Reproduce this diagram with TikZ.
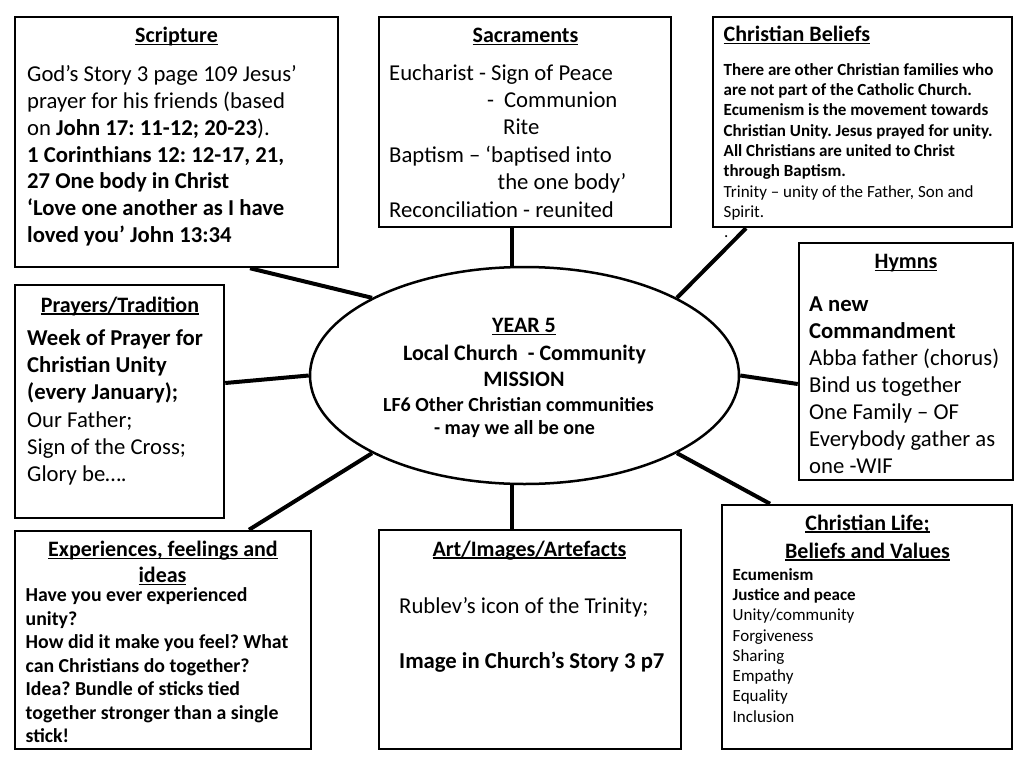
\documentclass[tikz,border=0pt]{standalone}
\usepackage{fontspec}
\setmainfont{Carlito}
\usetikzlibrary{shapes.geometric,calc}
\pgfdeclarelayer{bg}
\pgfsetlayers{bg,main}
\frenchspacing
\newcommand\ulx[1]{\setbox0\hbox{#1}\rlap{\rule[-2.7pt]{\wd0}{1.5pt}}\box0}
\begin{document}
\begin{tikzpicture}[x=1pt,y=-1pt,
  box/.style={draw=black, line width=2.5pt, fill=white, rectangle, inner sep=0pt},
  conn/.style={draw=black, line width=4pt},
  ttl/.style={font=\fontsize{22}{27}\selectfont\bfseries, inner sep=0pt, anchor=base},
  txt/.style={inner sep=0pt, anchor=north west, align=left},
  big/.style={font=\fontsize{22.7}{#1}\selectfont},
  bigbf/.style={font=\fontsize{22.7}{#1}\selectfont\bfseries},
  small/.style={font=\fontsize{17}{20.3}\selectfont},
]
\begin{pgfonlayer}{bg}
\fill[white] (0,0) rectangle (1024,768);
\end{pgfonlayer}
\useasboundingbox (0,0) rectangle (1024,768);

% boxes
\node[box, minimum width=323pt, minimum height=250pt] (scr) at (176.5,142) {};
\node[box, minimum width=292pt, minimum height=210pt] (sac) at (525,122) {};
\node[box, minimum width=299pt, minimum height=210pt] (bel) at (862.5,122) {};
\node[box, minimum width=214pt, minimum height=237pt] (hym) at (906,361.5) {};
\node[box, minimum width=209pt, minimum height=233pt] (pra) at (119.5,401.5) {};
\node[box, minimum width=296pt, minimum height=218pt] (exp) at (163,640) {};
\node[box, minimum width=302pt, minimum height=219pt] (art) at (530,639.5) {};
\node[box, minimum width=290pt, minimum height=244pt] (life) at (867,627) {};
\node[box, ellipse, minimum width=429pt, minimum height=217pt] (ell) at (524.5,375.5) {};

% connector helper coordinates
\coordinate (cx1) at (250,0);
\coordinate (cx2) at (512,0);
\coordinate (cx3) at (746,0);
\coordinate (cy4) at (0,384);
\coordinate (cy5) at (0,383);
\coordinate (cx6) at (249,0);
\coordinate (cx7) at (770,0);

\begin{pgfonlayer}{bg}
\draw[conn] (scr.south -| cx1) -- (ell.153.5);
\draw[conn] (sac.south -| cx2) -- (ell.north -| cx2);
\draw[conn] (bel.south -| cx3) -- (ell.27);
\draw[conn] (hym.west |- cy4) -- (ell.-0.5);
\draw[conn] (pra.east |- cy5) -- (ell.180);
\draw[conn] (exp.north -| cx6) -- (ell.207);
\draw[conn] (art.north -| cx2) -- (ell.south -| cx2);
\draw[conn] (life.north -| cx7) -- (ell.-27.3);
\end{pgfonlayer}

% Scripture
\node[ttl] (scrt) at (176.5,42.7) {\ulx{Scripture}};
\node[txt, big=26.8] (scrb) at (27,62.7) {\strut God’s Story 3 page 109 Jesus’\\
prayer for his friends (based\\
on \textbf{John 17: 11-12; 20-23}).\\
\textbf{1 Corinthians 12: 12-17, 21,}\\
\textbf{27 One body in Christ}\\
\textbf{‘Love one another as I have}\\
\textbf{loved you’ John 13:34}};

% Sacraments
\node[ttl] (sact) at (525.5,42.7) {\ulx{Sacraments}};
\node[txt, big=27.4] (sacb) at (389,60.8) {\strut Eucharist - Sign of Peace\\
\hspace*{98pt}-\hspace{10pt}Communion\\
\hspace*{114pt}Rite\\
Baptism – ‘baptised into\\
\hspace*{108.5pt}the one body’\\
Reconciliation - reunited};

% Christian Beliefs
\node[ttl, anchor=base west] (belt) at (723.5,41.7) {\ulx{Christian Beliefs}};
\node[txt, small] (belb) at (723.5,60.8) {\strut\textbf{There are other Christian families who}\\
\textbf{are not part of the Catholic Church.}\\
\textbf{Ecumenism is the movement towards}\\
\textbf{Christian Unity. Jesus prayed for unity.}\\
\textbf{All Christians are united to Christ}\\
\textbf{through Baptism.}\\
Trinity – unity of the Father, Son and\\
Spirit.};
\node[inner sep=0pt, anchor=base west, small] (dot) at (724,237) {.};

% Hymns
\node[ttl] (hymt) at (906,268.3) {\ulx{Hymns}};
\node[txt, big=26.9] (hymb) at (809,292.9) {\strut\textbf{A new}\\
\textbf{Commandment}\\
Abba father (chorus)\\
Bind us together\\
One Family – OF\\
Everybody gather as\\
one -WIF};

% Prayers/Tradition
\node[ttl] (prat) at (120,312) {\ulx{Prayers/Tradition}};
\node[txt, big=27.3] (prab) at (27,325.9) {\strut\textbf{Week of Prayer for}\\
\textbf{Christian Unity}\\
\textbf{(every January);}\\
Our Father;\\
Sign of the Cross;\\
Glory be….};

% centre
\node[ttl] (y5a) at (524,332.7) {\ulx{YEAR 5}};
\node[ttl] (y5b) at (524.5,360) {Local Church~ - Community};
\node[ttl] (y5c) at (524,386.7) {MISSION};
\node[ttl, font=\fontsize{20}{25}\selectfont\bfseries] (y5d) at (518.5,411.7) {LF6 Other Christian communities};
\node[ttl, font=\fontsize{20}{25}\selectfont\bfseries] (y5e) at (514.5,434.5) {- may we all be one};

% Experiences
\node[ttl] (expt1) at (163,556.7) {\ulx{Experiences, feelings and}};
\node[ttl] (expt2) at (162.5,582.7) {\ulx{ideas}};
\node[txt, font=\fontsize{19.8}{23.5}\selectfont\bfseries] (expb) at (25.5,585.2) {\strut Have you ever experienced\\
unity?\\
How did it make you feel? What\\
can Christians do together?\\
Idea? Bundle of sticks tied\\
together stronger than a single\\
stick!};

% Art
\node[ttl] (artt) at (529.5,556) {\ulx{Art/Images/Artefacts}};
\node[inner sep=0pt, anchor=base west, big=27] (artb1) at (399,613) {Rublev’s icon of the Trinity;};
\node[inner sep=0pt, anchor=base west, bigbf=27] (artb2) at (399,668) {Image in Church’s Story 3 p7};

% Christian Life
\node[ttl] (lifet1) at (867.5,530) {\ulx{Christian Life;}};
\node[ttl] (lifet2) at (867.5,558) {\ulx{Beliefs and Values}};
\node[txt, small] (lifeb) at (732.5,565.7) {\strut\textbf{Ecumenism}\\
\textbf{Justice and peace}\\
Unity/community\\
Forgiveness\\
Sharing\\
Empathy\\
Equality\\
Inclusion};
\end{tikzpicture}
\end{document}
